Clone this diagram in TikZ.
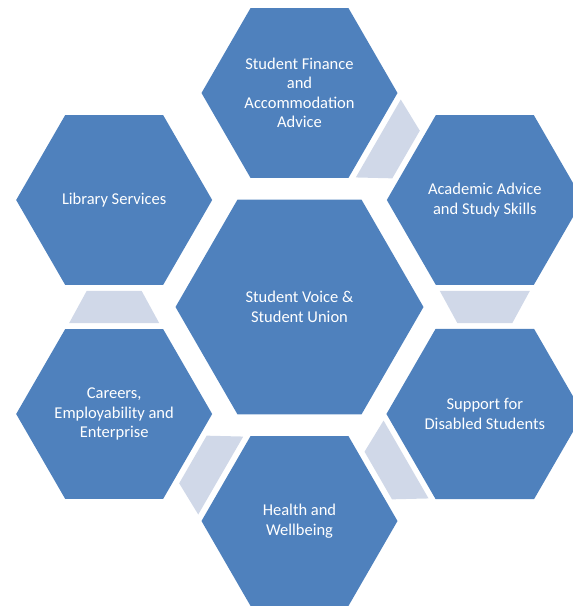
\documentclass[tikz,border=0pt]{standalone}
\usepackage{fontspec}
\setmainfont{Carlito}
\usetikzlibrary{shapes.geometric, calc}
\definecolor{cblue}{HTML}{4F81BD}
\definecolor{clight}{HTML}{D0D8E8}
\tikzset{
  every picture/.style={font=\fontsize{16.5}{19.4}\selectfont},
  hexa/.style={regular polygon, regular polygon sides=6, minimum size=#1, fill=cblue, text=white, align=center, inner sep=0pt, outer sep=0pt},
  hexa/.default=196pt,
  link/.style={fill=clight},
}
\begin{document}
\begin{tikzpicture}[x=1pt, y=1pt]
  \useasboundingbox (0,0) rectangle (573,-606);
  % centre hexagon
  \node[hexa=248pt] (voice) at (299.5,-307) {Student Voice \&\\Student Union};
  % outer ring, clockwise from the top
  \foreach \n/\a/\t in {
      fin/90/{Student Finance\\and\\Accommodation\\Advice},
      acad/30/{Academic Advice\\and Study Skills},
      supp/-30/{Support for\\Disabled Students},
      health/-90/{Health and\\Wellbeing},
      career/-150/{Careers,\\Employability and\\Enterprise},
      lib/150/{Library Services}}
    \node[hexa] (\n) at ({299.5+214*cos(\a)},{-307+214*sin(\a)}) {\t};
  % light trapezoids between neighbours, wide end at the source
  \foreach \a/\b in {fin/acad, acad/supp, supp/health, health/career, career/lib} {
    \coordinate (w) at ($(\a)!0.425!(\b)$);
    \coordinate (nw) at ($(\a)!0.575!(\b)$);
    \fill[link] ($(w)!45pt!90:(\b)$) -- ($(w)!45pt!-90:(\b)$) -- ($(nw)!27.5pt!-90:(\b)$) -- ($(nw)!27.5pt!90:(\b)$) -- cycle;
  }
\end{tikzpicture}
\end{document}
